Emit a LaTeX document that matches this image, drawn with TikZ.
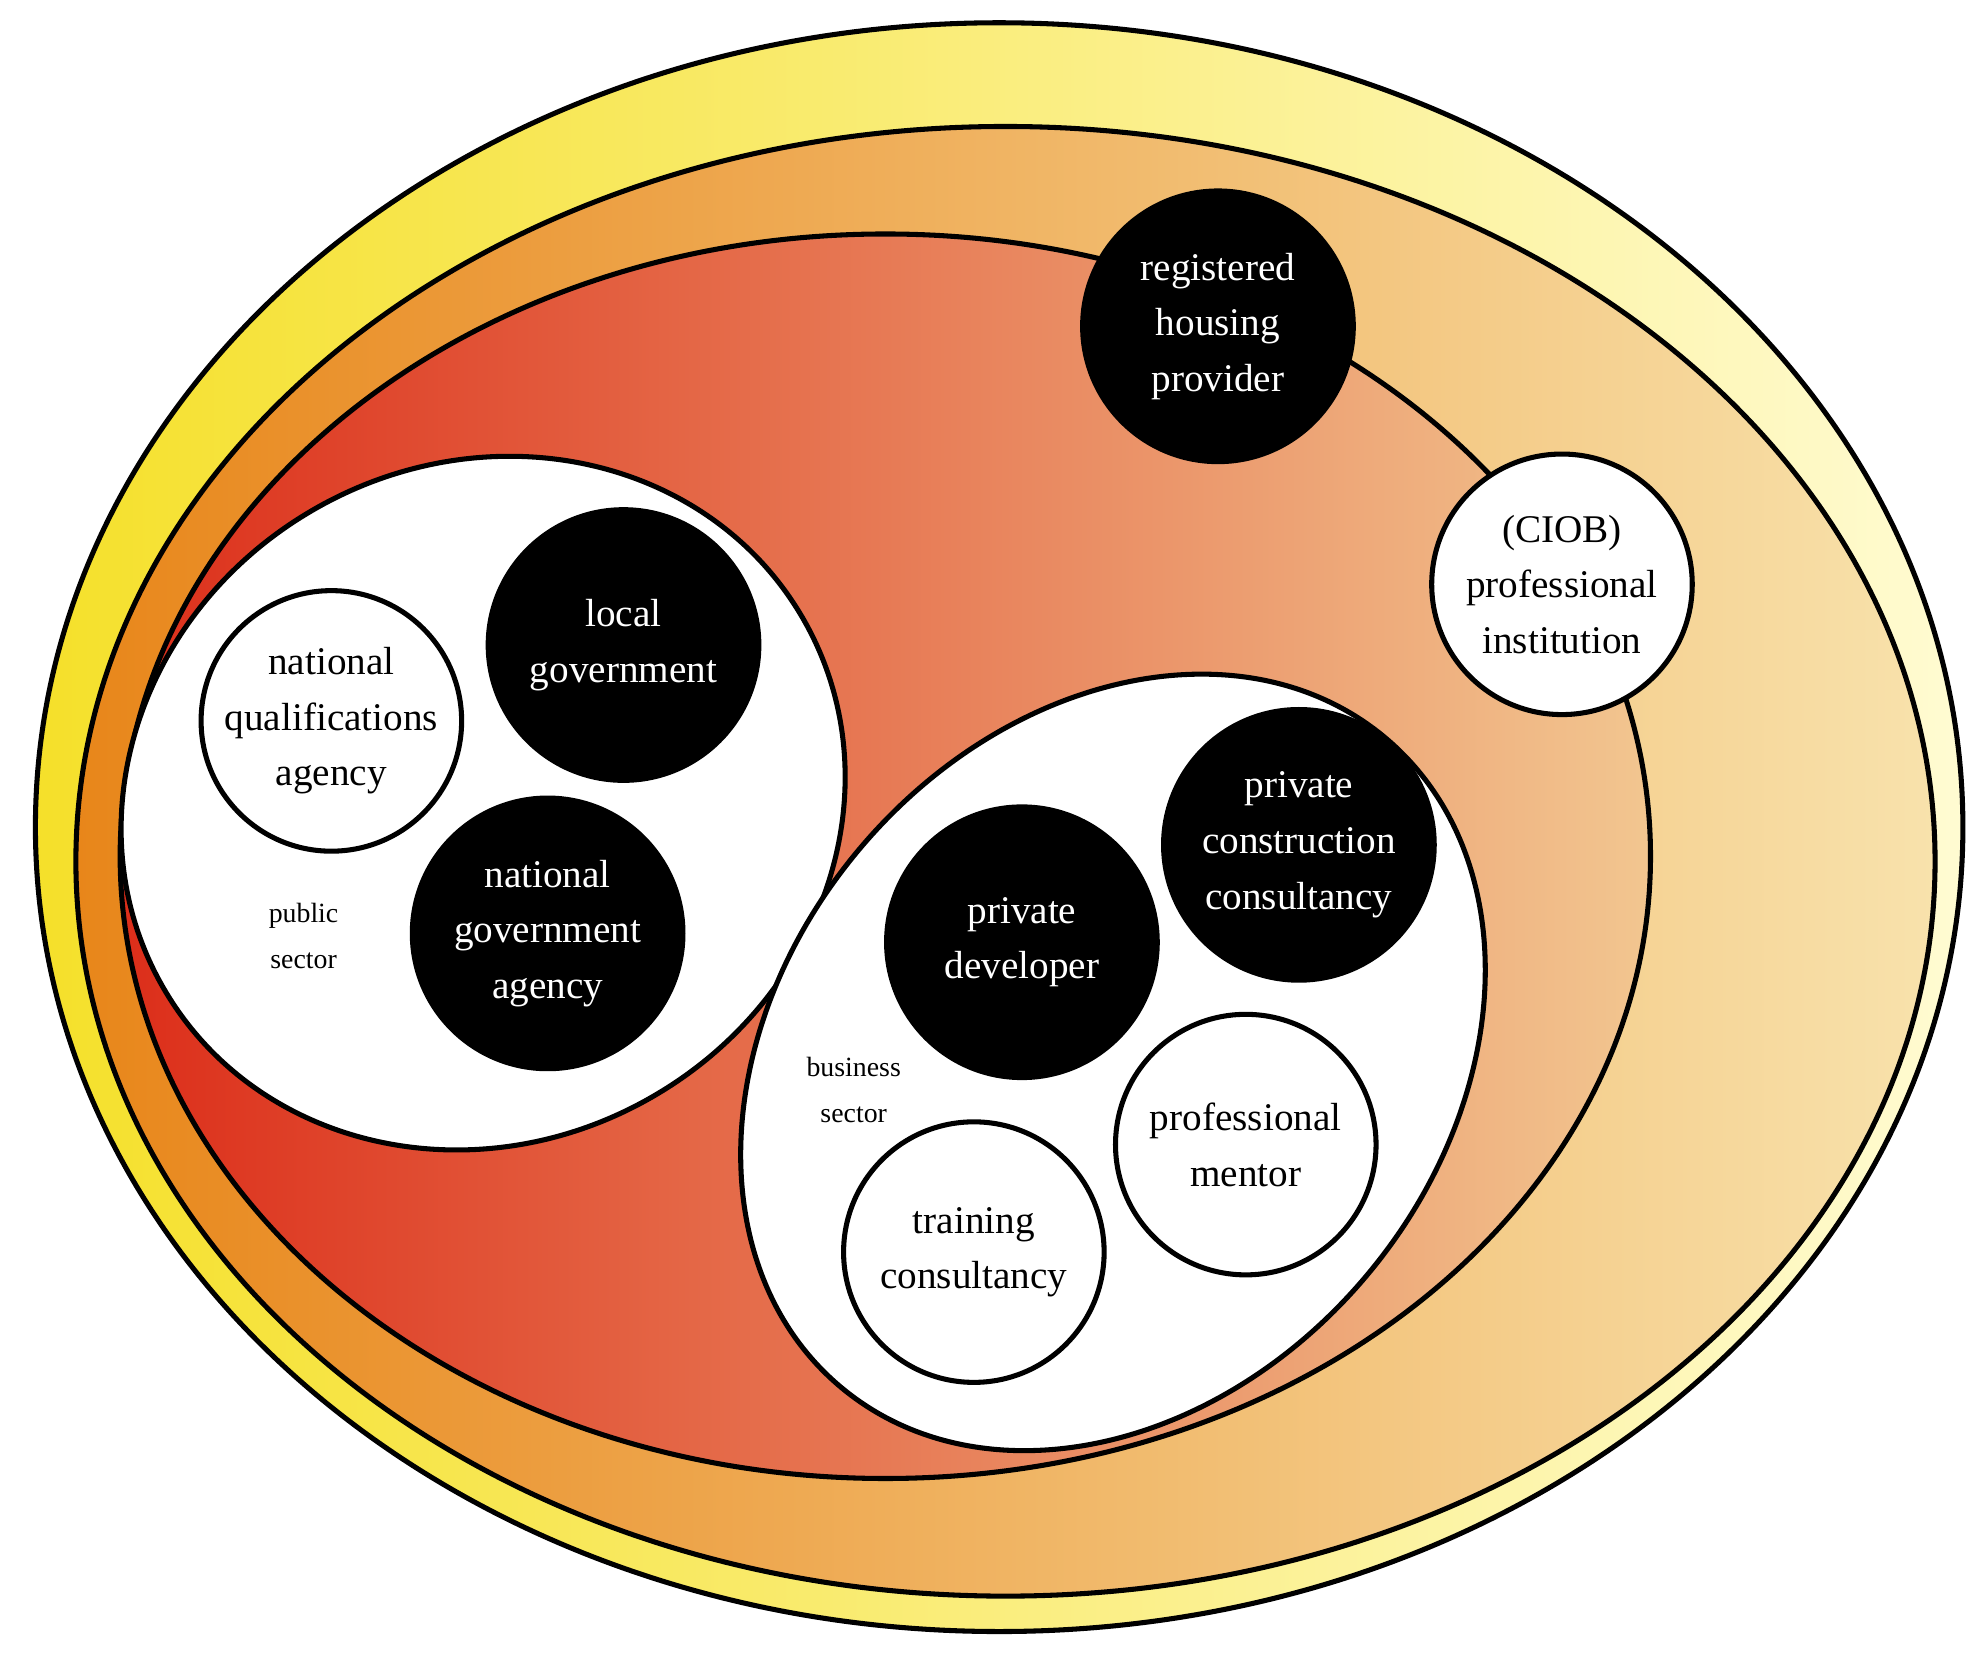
\documentclass[tikz,border=0pt]{standalone}
\usepackage{fontspec}
\setmainfont{Liberation Serif}
\definecolor{oL}{HTML}{F5E02A}\definecolor{oR}{HTML}{FFFBD2}
\definecolor{mL}{HTML}{E8861A}\definecolor{mR}{HTML}{F8E2AC}
\definecolor{iL}{HTML}{DC2E1A}\definecolor{iR}{HTML}{F2C690}
\begin{document}
\begin{tikzpicture}[x=1pt,y=-1pt,line width=4pt,
  blk/.style={circle,fill=black,draw=black,minimum size=214pt,inner sep=0pt,text=white,align=center,font=\fontsize{31}{44}\selectfont},
  wht/.style={circle,fill=white,draw=black,minimum size=206pt,inner sep=0pt,text=black,align=center,font=\fontsize{31}{44}\selectfont},
  lab/.style={align=center,font=\fontsize{22}{36}\selectfont}]
\useasboundingbox (0,0) rectangle (1560,1308);
\shade[left color=oL,right color=oR,draw=black] (790,654) ellipse [x radius=762,y radius=636];
\shade[left color=mL,right color=mR,draw=black] (795,681) ellipse [x radius=735,y radius=581];
\shade[shading angle=60,left color=iL,right color=iR,draw=black] (700,677) ellipse [x radius=605,y radius=492];
\fill[white,draw=black,rotate around={30:(382,635)}] (382,635) ellipse [x radius=292,y radius=268];
\fill[white,draw=black,rotate around={50:(880,840)}] (880,840) ellipse [x radius=335,y radius=262];
\node[blk] (rhp) at (963,258) {registered\\housing\\provider};
\node[wht] (ciob) at (1235,462) {(CIOB)\\professional\\institution};
\node[blk] (lg) at (493,510) {local\\government};
\node[wht] (nqa) at (262,570) {national\\qualifications\\agency};
\node[blk] (nga) at (433,738) {national\\government\\agency};
\node[lab] (ps) at (240,740) {public\\sector};
\node[blk] (pd) at (808,745) {private\\developer};
\node[blk] (pcc) at (1027,668) {private\\construction\\consultancy};
\node[wht] (pm) at (985,905) {professional\\mentor};
\node[wht] (tc) at (770,990) {training\\consultancy};
\node[lab] (bs) at (675,862) {business\\sector};
\end{tikzpicture}
\end{document}
